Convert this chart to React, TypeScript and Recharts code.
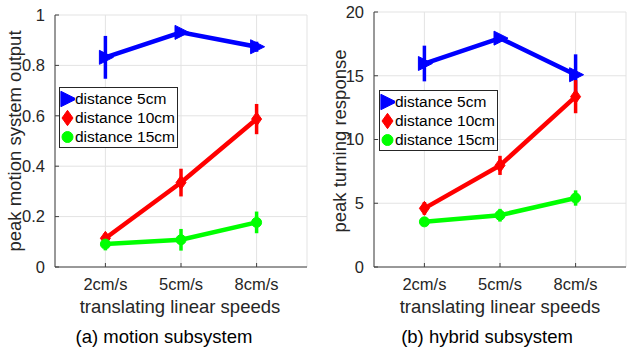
import React from 'react';
import { LineChart, Line, XAxis, YAxis, CartesianGrid, ErrorBar, Legend } from 'recharts';

const speeds = [2, 5, 8];
const speedLabels = ['2cm/s', '5cm/s', '8cm/s'];
const seriesNames = ['distance 5cm', 'distance 10cm', 'distance 15cm'];

// (a) motion subsystem
const motion5 = [0.832, 0.931, 0.874];
const motion5Err = [0.085, 0.008, 0.02];
const motion10 = [0.114, 0.335, 0.587];
const motion10Err = [0.02, 0.055, 0.06];
const motion15 = [0.091, 0.108, 0.177];
const motion15Err = [0.025, 0.043, 0.043];
const motionTicks = [0, 0.2, 0.4, 0.6, 0.8, 1];

// (b) hybrid subsystem
const hybrid5 = [15.96, 17.95, 15.08];
const hybrid5Err = [1.4, 0.2, 1.6];
const hybrid10 = [4.6, 7.97, 13.36];
const hybrid10Err = [0.5, 0.75, 1.3];
const hybrid15 = [3.54, 4.06, 5.41];
const hybrid15Err = [0.2, 0.5, 0.6];
const hybridTicks = [0, 5, 10, 15, 20];

const COLORS = ['#0000ff', '#ff0000', '#00ff00'];
const FONT = '"Liberation Sans", Arial, Helvetica, sans-serif';
const AXIS = '#404040';
const GRID = '#e3e3e3';

const buildRows = (vals: number[][], errs: number[][]) =>
  speeds.map((s, i) => ({
    speed: s,
    d5: vals[0][i], e5: errs[0][i],
    d10: vals[1][i], e10: errs[1][i],
    d15: vals[2][i], e15: errs[2][i],
  }));

const motionRows = buildRows([motion5, motion10, motion15], [motion5Err, motion10Err, motion15Err]);
const hybridRows = buildRows([hybrid5, hybrid10, hybrid15], [hybrid5Err, hybrid10Err, hybrid15Err]);

const Marker = ({ kind, cx, cy, color, s = 1 }: { kind: number; cx: number; cy: number; color: string; s?: number }) => {
  if (kind === 0) {
    return (
      <polygon
        points={`${cx - 6 * s},${cy - 7 * s} ${cx + 8 * s},${cy} ${cx - 6 * s},${cy + 7 * s}`}
        fill={color}
        stroke={color}
      />
    );
  }
  if (kind === 1) {
    return (
      <polygon
        points={`${cx},${cy - 7 * s} ${cx + 5 * s},${cy} ${cx},${cy + 7 * s} ${cx - 5 * s},${cy}`}
        fill={color}
        stroke={color}
      />
    );
  }
  return <circle cx={cx} cy={cy} r={5 * s} fill={color} stroke={color} />;
};

const dotFor = (kind: number) => (props: any) => {
  const { cx, cy, index } = props;
  if (cx == null || cy == null) return <g key={index} />;
  return <Marker key={index} kind={kind} cx={cx} cy={cy} color={COLORS[kind]} />;
};

const LegendBox = () => (
  <div
    style={{
      border: '1px solid #262626',
      background: '#fff',
      padding: '1px 2px 1px 0',
      fontFamily: FONT,
      fontSize: 15.5,
      color: '#000',
      lineHeight: '19px',
    }}
  >
    {seriesNames.map((name, k) => (
      <div key={name} style={{ display: 'flex', alignItems: 'center', whiteSpace: 'nowrap' }}>
        <svg width={15} height={18}>
          <Marker kind={k} cx={7.5} cy={9} color={COLORS[k]} s={1.1} />
        </svg>
        <span>{name}</span>
      </div>
    ))}
  </div>
);

type PanelProps = {
  left: number;
  width: number;
  top: number;
  yAxisWidth: number;
  rows: any[];
  yTicks: number[];
  yMax: number;
  yTitle: string;
  caption: string;
  yTitleX: number;
  titleX: number;
  captionX: number;
  legendLeft: number;
  legendTop: number;
  rightMargin: number;
};

const Panel = (p: PanelProps) => {
  const keys = [['d5', 'e5'], ['d10', 'e10'], ['d15', 'e15']];
  const textStyle: React.CSSProperties = {
    position: 'absolute',
    whiteSpace: 'nowrap',
    fontFamily: FONT,
    fontSize: 18.5,
    color: '#262626',
  };
  return (
    <div style={{ position: 'absolute', left: p.left, top: 0, width: p.width, height: 350 }}>
      <LineChart
        width={p.width}
        height={350}
        data={p.rows}
        margin={{ top: p.top, right: p.rightMargin, left: 0, bottom: 53 }}
      >
        <CartesianGrid stroke={GRID} strokeWidth={1} />
        <XAxis
          dataKey="speed"
          type="number"
          domain={[0, 10]}
          ticks={speeds}
          tickFormatter={(v: number) => speedLabels[speeds.indexOf(v)]}
          height={30}
          axisLine={{ stroke: AXIS }}
          tickLine={{ stroke: AXIS }}
          tickSize={-4}
          tickMargin={15}
          tick={{ fill: '#262626', fontSize: 16.5, fontFamily: FONT }}
          allowDataOverflow
        />
        <XAxis
          xAxisId="top"
          orientation="top"
          type="number"
          domain={[0, 10]}
          ticks={speeds}
          height={0}
          tick={false}
          tickSize={-4}
          axisLine={{ stroke: AXIS }}
          tickLine={{ stroke: AXIS }}
        />
        <YAxis
          type="number"
          domain={[0, p.yMax]}
          ticks={p.yTicks}
          width={p.yAxisWidth}
          axisLine={{ stroke: AXIS }}
          tickLine={{ stroke: AXIS }}
          tickSize={-4}
          tickMargin={14}
          tick={{ fill: '#262626', fontSize: 16.5, fontFamily: FONT }}
          allowDataOverflow
        />
        <YAxis
          yAxisId="right"
          orientation="right"
          type="number"
          domain={[0, p.yMax]}
          ticks={p.yTicks}
          width={0}
          tick={false}
          tickSize={-4}
          axisLine={{ stroke: AXIS }}
          tickLine={{ stroke: AXIS }}
        />
        {keys.map(([dk, ek], k) => (
          <Line
            key={dk}
            dataKey={dk}
            name={seriesNames[k]}
            stroke={COLORS[k]}
            strokeWidth={4.5}
            dot={dotFor(k)}
            activeDot={false}
            isAnimationActive={false}
          >
            <ErrorBar dataKey={ek} width={0} strokeWidth={3.5} stroke={COLORS[k]} direction="y" />
          </Line>
        ))}
        <Legend
          layout="vertical"
          align="center"
          verticalAlign="middle"
          content={() => <LegendBox />}
          wrapperStyle={{ left: p.legendLeft, top: p.legendTop, width: 'auto', bottom: 'auto', right: 'auto' }}
        />
      </LineChart>
      <div style={{ ...textStyle, left: p.yTitleX, top: 141, transform: 'translate(-50%, -50%) rotate(-90deg)' }}>
        {p.yTitle}
      </div>
      <div style={{ ...textStyle, left: p.titleX, top: 307, transform: 'translate(-50%, -50%)' }}>
        translating linear speeds
      </div>
      <div style={{ ...textStyle, left: p.captionX, top: 337, transform: 'translate(-50%, -50%)', color: '#000' }}>
        {p.caption}
      </div>
    </div>
  );
};

export default function App() {
  return (
    <div style={{ position: 'absolute', left: 0, top: 0, width: 627, height: 350, background: '#fff', overflow: 'hidden' }}>
      <Panel
        left={0}
        width={315}
        top={15}
        yAxisWidth={55}
        rows={motionRows}
        yTicks={motionTicks}
        yMax={1}
        yTitle="peak motion system output"
        caption="(a) motion subsystem"
        yTitleX={15}
        titleX={180}
        captionX={164}
        legendLeft={59}
        legendTop={87}
        rightMargin={8}
      />
      <Panel
        left={320}
        width={307}
        top={12}
        yAxisWidth={54}
        rows={hybridRows}
        yTicks={hybridTicks}
        yMax={20}
        yTitle="peak turning response"
        caption="(b) hybrid subsystem"
        yTitleX={20}
        titleX={180}
        captionX={167}
        legendLeft={59}
        legendTop={90}
        rightMargin={1}
      />
    </div>
  );
}
